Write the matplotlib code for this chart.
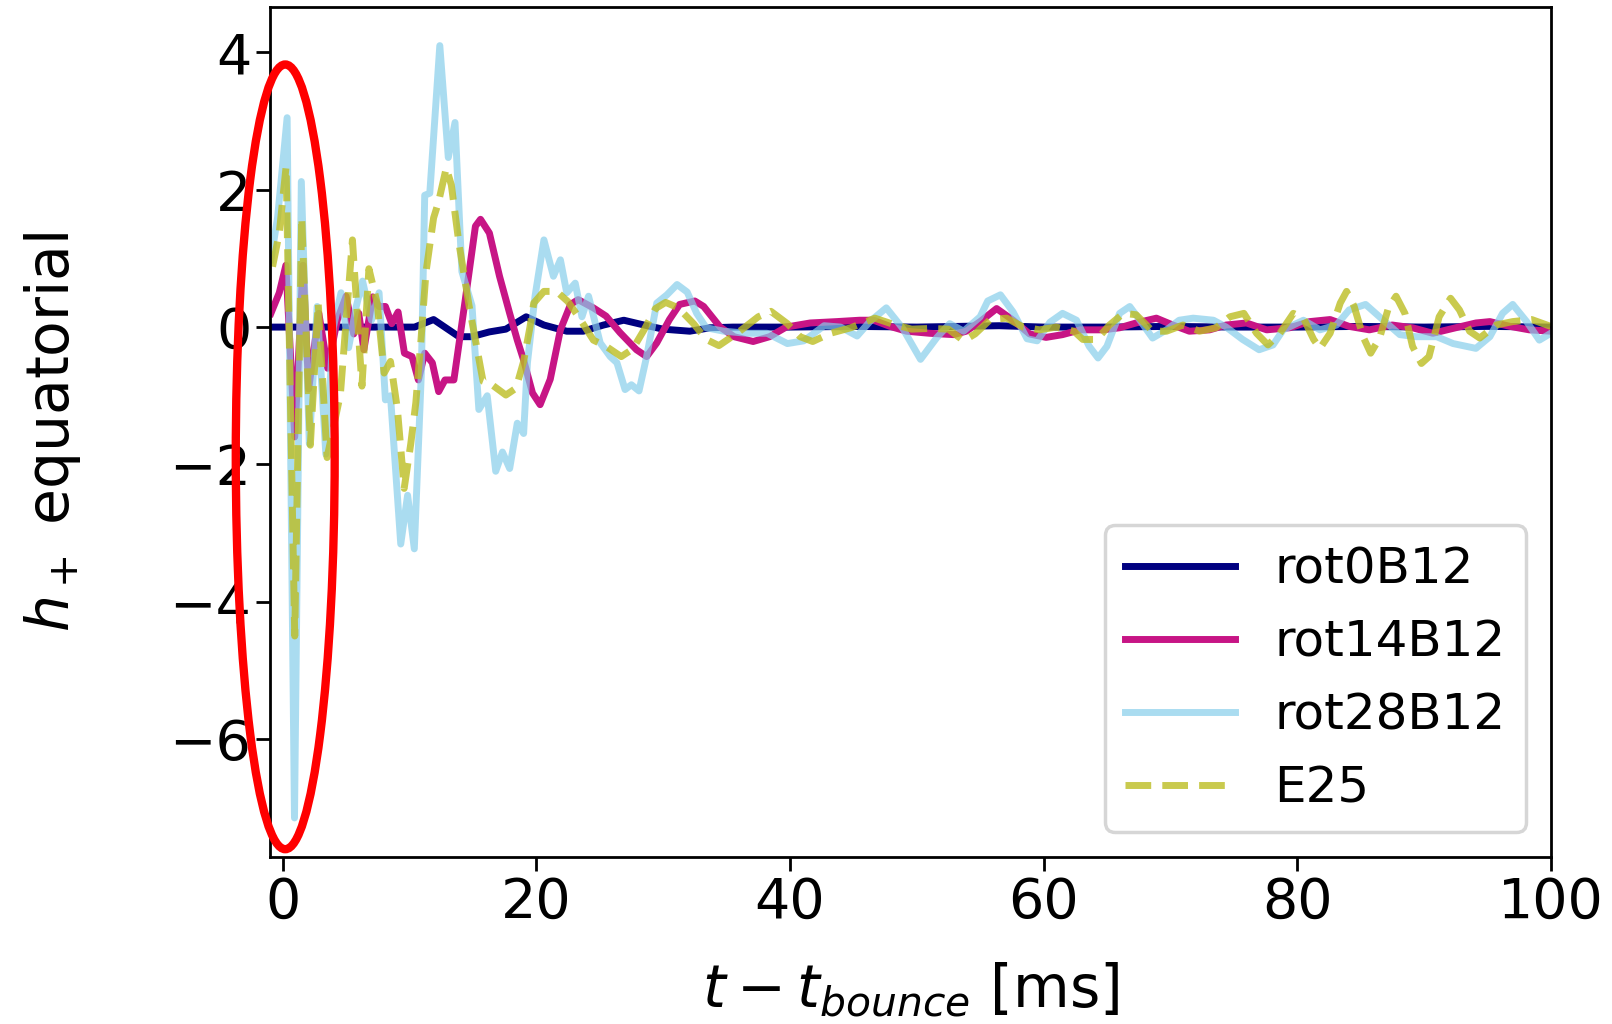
import matplotlib
matplotlib.use("Agg")
import matplotlib.pyplot as plt
from matplotlib.patches import Ellipse

# temps apres le rebond [ms] et amplitude h+
t_rot0 = [-1.0, 2.0, 6.0, 10.4, 11.9, 13.9, 14.9, 16.3, 17.6, 19.2, 20.6, 22.4, 23.7,
          25.3, 26.9, 28.5, 30.0, 32.1, 33.7, 35.5, 40.0, 45.0, 50.0, 56.5, 60.0,
          65.0, 70.0, 75.0, 80.0, 85.0, 90.0, 95.0, 100.0]
h_rot0 = [0.0, 0.0, 0.0, 0.0, 0.11, -0.14, -0.14, -0.07, -0.03, 0.15, 0.03, -0.06, -0.06,
          0.03, 0.1, 0.03, -0.03, -0.06, -0.01, 0.0, 0.0, 0.01, 0.0, 0.02, 0.0,
          0.0, 0.01, 0.0, 0.0, 0.01, 0.0, 0.01, 0.0]

t_rot14 = [-0.93, -0.27, 0.25, 0.95, 1.6, 2.05, 2.85, 3.55, 4.3, 5.0, 5.6, 6.0, 6.4,
           7.1, 7.6, 8.1, 8.6, 9.1, 9.6, 10.2, 10.7, 11.2, 11.8, 12.3, 12.8, 13.5,
           14.4, 15.2, 15.6, 16.3, 17.1, 17.9, 18.5, 19.0, 19.7, 20.3, 21.1, 21.9,
           22.7, 23.3, 24.5, 25.5, 26.6, 27.9, 28.7, 29.5, 30.5, 31.3, 32.5, 33.2,
           34.5, 35.6, 37.1, 38.4, 39.7, 41.6, 43.7, 45.5, 46.6, 47.9, 49.2, 51.0,
           52.9, 53.9, 55.0, 56.3, 57.6, 58.9, 60.2, 61.5, 62.9, 64.7, 66.0, 67.3,
           68.9, 70.2, 71.5, 73.1, 74.4, 76.0, 77.6, 79.4, 81.0, 82.6, 84.1, 85.7,
           87.5, 89.1, 90.7, 92.5, 94.1, 95.2, 96.8, 98.3, 100.0]
h_rot14 = [0.2, 0.5, 0.9, -1.6, 0.9, -0.9, 0.2, -0.6, 0.1, 0.45, -0.1, 0.2, -0.33,
           0.44, 0.3, 0.3, 0.05, 0.22, -0.38, -0.43, -0.77, -0.38, -0.52, -0.94, -0.77, -0.77,
           0.4, 1.47, 1.57, 1.37, 0.74, 0.2, -0.19, -0.48, -0.96, -1.13, -0.76, -0.04,
           0.33, 0.4, 0.28, 0.16, -0.08, -0.33, -0.43, -0.23, 0.11, 0.33, 0.38, 0.3,
           0.0, -0.14, -0.21, -0.14, 0.0, 0.06, 0.08, 0.1, 0.1, 0.01, -0.06, -0.09,
           -0.11, -0.06, 0.08, 0.27, 0.1, -0.1, -0.15, -0.11, -0.04, -0.04, -0.01, 0.06,
           0.13, 0.03, -0.06, -0.04, 0.03, 0.06, -0.04, -0.01, 0.08, 0.11, 0.01, -0.04,
           0.03, -0.01, -0.09, -0.01, 0.06, 0.08, 0.01, -0.04, -0.06]

t_rot28 = [-0.93, -0.4, 0.35, 0.93, 1.47, 2.1, 2.72, 3.4, 4.0, 4.6, 5.2, 5.8, 6.3,
           7.0, 7.6, 8.1, 8.5, 9.31, 9.85, 10.38, 10.93, 11.2, 11.6, 12.39, 13.06,
           13.59, 14.13, 14.93, 15.47, 16.13, 16.8, 17.33, 17.9, 18.5, 19.0, 19.3,
           19.9, 20.6, 21.35, 21.9, 22.4, 23.07, 23.6, 24.12, 25.04, 25.83, 26.36,
           27.0, 27.5, 28.1, 28.7, 29.5, 30.3, 31.1, 31.9, 32.65, 33.4, 34.8, 36.6,
           38.2, 39.8, 41.1, 42.7, 44.0, 45.3, 46.3, 47.6, 48.9, 50.3, 51.6, 52.6,
           53.7, 55.0, 55.6, 56.6, 57.6, 58.7, 59.5, 60.5, 61.5, 62.6, 63.6, 64.3,
           65.0, 66.0, 66.8, 67.6, 68.6, 69.7, 70.7, 71.8, 73.4, 74.4, 75.7, 77.0,
           78.1, 78.9, 80.5, 81.8, 83.1, 84.1, 85.4, 86.8, 88.1, 89.4, 91.0, 92.3,
           94.1, 95.2, 96.2, 97.0, 98.1, 99.1, 100.0]
h_rot28 = [0.98, 1.6, 3.05, -7.15, 2.12, -1.7, 0.3, -1.85, 0.0, 0.5, -0.3, 0.3, 0.67,
           0.1, 0.5, -1.06, -1.0, -3.16, -2.45, -3.23, -0.69, 1.92, 1.95, 4.1, 2.47,
           2.98, 0.81, 0.31, -1.2, -1.0, -2.1, -1.82, -2.06, -1.4, -1.55, -0.52,
           0.45, 1.27, 0.74, 0.98, 0.5, 0.64, 0.15, 0.45, -0.23, -0.43, -0.52,
           -0.91, -0.84, -0.93, -0.43, 0.35, 0.47, 0.62, 0.51, 0.2, -0.01, -0.06, -0.09,
           -0.09, -0.24, -0.2, 0.02, 0.0, -0.13, 0.08, 0.28, -0.02, -0.47, -0.15, 0.05,
           -0.06, 0.15, 0.38, 0.47, 0.22, -0.17, -0.2, 0.07, 0.2, 0.1, -0.28, -0.45,
           -0.28, 0.2, 0.3, 0.1, -0.16, -0.04, 0.1, 0.13, 0.1, 0.0, -0.18, -0.33,
           -0.26, -0.04, 0.1, -0.04, 0.03, 0.25, 0.33, 0.1, -0.11, -0.14, -0.14, -0.24,
           -0.31, -0.14, 0.2, 0.33, 0.08, -0.19, -0.09]

t_e25 = [-0.8, -0.27, 0.27, 0.95, 1.5, 2.18, 2.8, 3.5, 4.55, 5.5, 6.25, 6.8, 7.45,
         8.0, 8.5, 9.05, 9.58, 10.1, 10.5, 10.9, 11.3, 11.9, 12.3, 12.9, 13.3, 13.9,
         14.7, 15.2, 15.8, 16.5, 17.6, 18.4, 19.0, 19.5, 19.8, 20.6, 21.6, 22.5, 23.4,
         24.5, 25.5, 26.7, 27.6, 28.5, 29.4, 30.2, 31.2, 32.4, 33.4, 34.4, 35.9, 37.5,
         38.5, 39.8, 40.8, 41.8, 43.2, 44.8, 46.7, 48.0, 49.6, 51.0, 52.5, 53.7, 54.6,
         55.8, 57.1, 58.4, 59.7, 61.0, 62.4, 63.1, 64.2, 65.2, 66.3, 67.3, 68.6, 69.7,
         71.0, 72.3, 73.6, 74.7, 75.8, 76.8, 77.7, 78.6, 79.7, 80.5, 81.3, 81.8, 82.6,
         83.4, 83.9, 84.5, 85.2, 85.8, 86.5, 87.2, 87.8, 88.5, 89.1, 89.8, 90.4, 91.2,
         92.1, 92.8, 93.6, 94.4, 95.7, 97.0, 98.5, 100.0]
h_e25 = [0.88, 1.37, 2.34, -4.5, 1.6, -1.72, 0.35, -1.9, -0.98, 1.27, -0.86, 0.85, 0.35,
         -0.67, -0.5, -1.2, -2.35, -1.7, -1.1, -0.2, 0.8, 1.59, 1.83, 2.32, 2.07, 1.22,
         0.31, -0.19, -0.79, -0.84, -0.99, -0.89, -0.5, 0.0, 0.35, 0.52, 0.52, 0.37, 0.13,
         -0.19, -0.28, -0.43, -0.32, -0.04, 0.27, 0.36, 0.28, 0.05, -0.18, -0.27, -0.08, 0.15,
         0.23, 0.05, -0.14, -0.21, -0.09, -0.01, 0.13, 0.05, -0.03, -0.02, -0.03, -0.2, -0.1,
         0.11, 0.13, 0.0, -0.04, 0.0, -0.06, -0.18, -0.18, 0.03, 0.2, 0.18, -0.06, -0.06,
         0.03, -0.06, -0.01, 0.15, 0.2, -0.09, -0.26, -0.1, 0.2, 0.13, -0.18, -0.31, -0.09,
         0.35, 0.52, 0.3, -0.14, -0.38, -0.16, 0.28, 0.45, 0.2, -0.28, -0.53, -0.43, 0.15,
         0.42, 0.25, -0.06, -0.16, 0.03, 0.08, 0.11, 0.01]

series = [
    ("rot0B12", t_rot0, h_rot0, "navy", "-", 1.0),
    ("rot14B12", t_rot14, h_rot14, "mediumvioletred", "-", 1.0),
    ("rot28B12", t_rot28, h_rot28, "skyblue", "-", 0.7),
    ("E25", t_e25, h_e25, "tab:olive", "--", 0.8),
]

fig = plt.figure(figsize=(16.12, 10.24), dpi=100)
ax = fig.add_axes([0.1675, 0.163, 0.7945, 0.83])

for name, t, h, col, ls, a in series:
    ax.plot(t, h, color=col, linestyle=ls, alpha=a, linewidth=5, label=name)

# zone entouree au moment du rebond
ell = Ellipse((0.2, -1.89), width=7.8, height=11.43, fill=False,
              edgecolor="red", linewidth=6, clip_on=False, zorder=5)
ax.add_patch(ell)

ax.set_xlim(-1, 100)
ax.set_ylim(-7.72, 4.66)
ax.set_xticks([0, 20, 40, 60, 80, 100])
ax.set_yticks([-6, -4, -2, 0, 2, 4])
ax.tick_params(labelsize=40, length=10, width=2)
for sp in ax.spines.values():
    sp.set_linewidth(2)

ax.set_xlabel(r"$t - t_{bounce}$ [ms]", fontsize=42, labelpad=22)
ax.set_ylabel(r"$h_+$ equatorial", fontsize=42, labelpad=62)
leg = ax.legend(loc="lower right", fontsize=36, handlelength=2.2, labelspacing=0.5)
leg.get_frame().set_linewidth(2.5)

fig.savefig("out.png", dpi=100)
